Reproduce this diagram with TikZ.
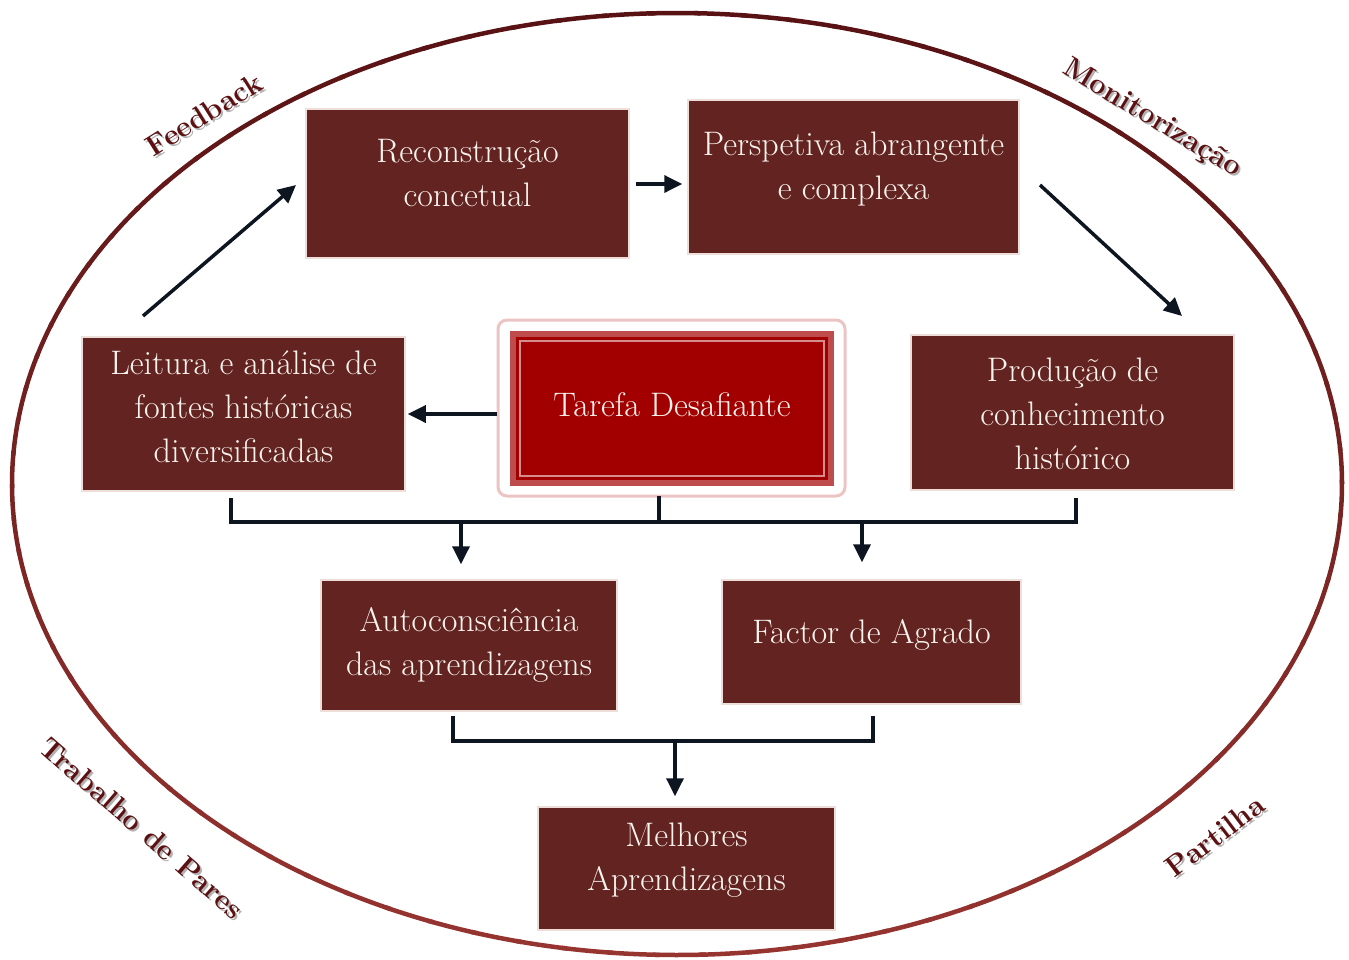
\documentclass[tikz,border=0pt]{standalone}
\usetikzlibrary{arrows.meta}
\definecolor{boxfill}{RGB}{99,35,33}
\definecolor{boxline}{RGB}{238,222,218}
\definecolor{arrowc}{RGB}{13,21,32}
\definecolor{tarefa}{RGB}{162,0,0}
\definecolor{glow}{RGB}{236,196,196}
\definecolor{ringdark}{RGB}{88,18,20}
\definecolor{ringlight}{RGB}{150,52,48}
\definecolor{labelc}{RGB}{92,16,18}
\definecolor{txt}{RGB}{250,244,238}
\tikzset{
  mbox/.style={fill=boxfill, draw=boxline, line width=1.5pt, inner sep=0pt},
  btext/.style={text=txt, align=center, font=\fontsize{34}{44}\selectfont, inner sep=0pt},
  conn/.style={draw=arrowc, line width=3.5pt},
  arr/.style={conn, -{Triangle[length=18pt,width=17pt]}},
  ringlabel/.style={text=labelc, font=\fontsize{29}{32}\selectfont\bfseries},
  ringshadow/.style={text=black!30, font=\fontsize{29}{32}\selectfont\bfseries},
}
\begin{document}
\begin{tikzpicture}[x=1pt,y=-1pt]
\useasboundingbox (0,0) rectangle (1349,959);
% ring with vertical colour change
\foreach \a in {0,4,...,356}{
  \pgfmathsetmacro{\t}{round(50+50*sin(\a+2))}
  \draw[color=ringdark!\t!ringlight, line width=4.5pt]
    ({677+665*cos(\a)},{484-471*sin(\a)}) arc[start angle=\a, end angle=\a+4.5, x radius=665, y radius=-471];
}
% boxes
\node[mbox, minimum width=323pt, minimum height=149pt] (rec) at (467.5,183.5) {};
\node[btext] (rect) at ([yshift=10pt]rec.center) {Reconstrução\\concetual};
\node[mbox, minimum width=331pt, minimum height=154pt] (per) at (853.5,177) {};
\node[btext] (pert) at ([yshift=8pt]per.center) {Perspetiva abrangente\\e complexa};
\node[mbox, minimum width=323pt, minimum height=154pt] (lei) at (243.5,414) {};
\node[btext] (leit) at ([yshift=7pt]lei.center) {Leitura e análise de\\fontes históricas\\diversificadas};
\node[mbox, minimum width=323pt, minimum height=155pt] (pro) at (1072.5,412.5) {};
\node[btext] (prot) at ([yshift=-1pt]pro.center) {Produção de\\conhecimento\\histórico};
\node[mbox, minimum width=296pt, minimum height=131pt] (aut) at (469,645.5) {};
\node[btext] (autt) at ([yshift=1pt]aut.center) {Autoconsciência\\das aprendizagens};
\node[mbox, minimum width=299pt, minimum height=124pt] (fac) at (871.5,642) {};
\node[btext] (fact) at ([yshift=7pt]fac.center) {Factor de Agrado};
\node[mbox, minimum width=297pt, minimum height=123pt] (mel) at (686.5,868.5) {};
\node[btext] (melt) at ([yshift=8pt]mel.center) {Melhores\\Aprendizagens};
% Tarefa Desafiante
\draw[draw=glow, line width=3pt, rounded corners=9pt, fill=white] (498,320) rectangle (845,496);
\node[fill=tarefa, draw=tarefa!70!white, line width=6pt, minimum width=318pt, minimum height=149pt, inner sep=0pt] (taf) at (672,408.5) {};
\draw[draw=tarefa!45!white, line width=1.5pt] (520,341) rectangle (824,476);
\node[btext] (taft) at ([yshift=4pt]taf.center) {Tarefa Desafiante};
\coordinate (tafb) at (659,496);
% arrows
\coordinate (a1s) at (143,316); \coordinate (a1e) at (296,185);
\draw[arr] (a1s) -- (a1e);
\draw[arr] ([xshift=6pt]rec.east |- 0,184) -- ([xshift=-5pt]per.west |- 0,184);
\coordinate (a3s) at (1040,185); \coordinate (a3e) at (1182,316);
\draw[arr] (a3s) -- (a3e);
\draw[arr] (497,414) -- ([xshift=2pt]lei.east |- 0,414);
% bracket 1
\coordinate (b1l) at (231,500); \coordinate (b1r) at (1076,500);
\draw[conn, line cap=rect] (b1l) -- (231,522) -- (1076,522) -- (b1r);
\draw[conn] (tafb) -- (659,522);
\draw[arr] (461,522) -- ([yshift=15pt]aut.north -| 461,0);
\draw[arr] (862,522) -- ([yshift=17pt]fac.north -| 862,0);
% bracket 2
\coordinate (b2l) at (453,718); \coordinate (b2r) at (873,718);
\draw[conn, line cap=rect] (b2l) -- (453,741) -- (873,741) -- (b2r);
\draw[arr] (675,741) -- ([yshift=10pt]mel.north -| 675,0);
% ring labels (with soft shadow, as in the reference)
\foreach \nm/\lx/\ly/\ang/\txt in {lfb/204/114/32/Feedback, lmo/1152/119/-31/Monitorização, ltp/142/828/-41/Trabalho de Pares, lpa/1215/836/37/Partilha}{
  \node[ringshadow, rotate=\ang] (\nm s) at (\lx+2,\ly+2) {\txt};
  \node[ringlabel, rotate=\ang] (\nm) at (\lx,\ly) {\txt};
}
\end{tikzpicture}
\end{document}
